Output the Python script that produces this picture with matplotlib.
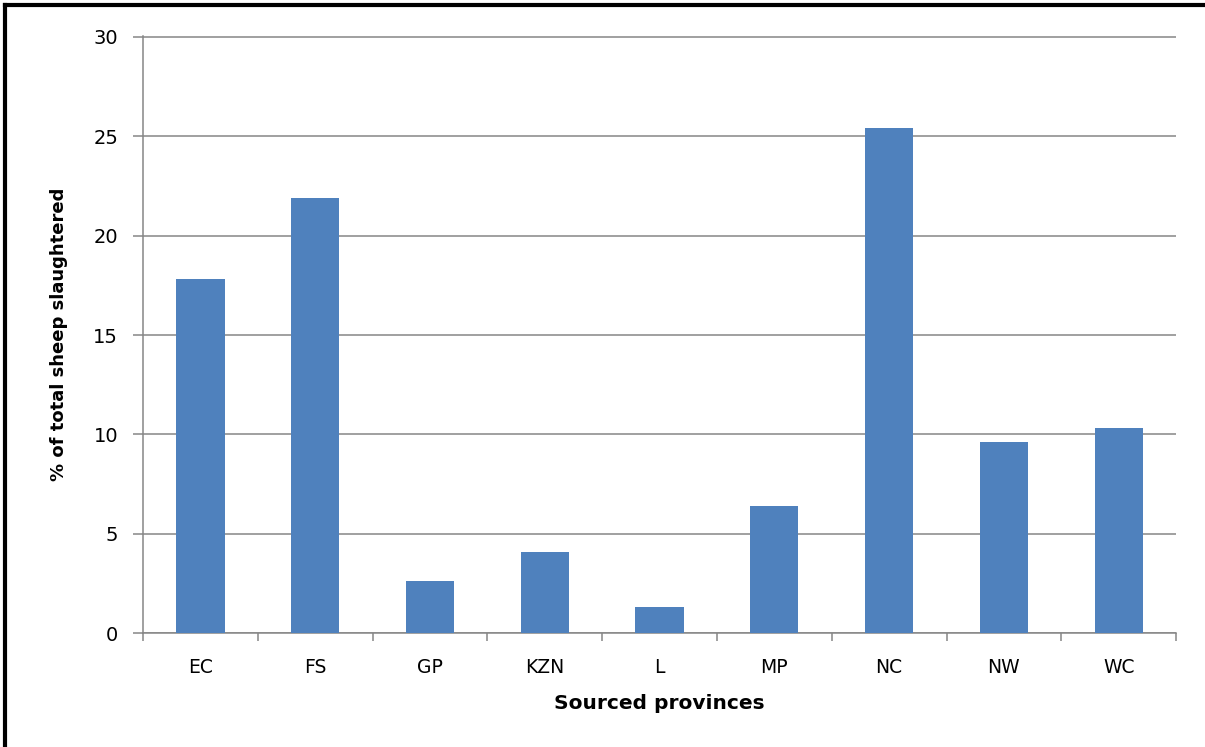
import matplotlib
matplotlib.use("Agg")
import matplotlib.pyplot as plt
from matplotlib.lines import Line2D
import numpy as np

# data
provinces = ["EC", "FS", "GP", "KZN", "L", "MP", "NC", "NW", "WC"]
pct_slaughtered = [17.8, 21.9, 2.6, 4.1, 1.3, 6.4, 25.4, 9.6, 10.3]

bar_color = "#4F81BD"
grid_color = "#868686"

fig = plt.figure(figsize=(12.05, 7.47), dpi=100)
ax = fig.add_axes([0.1187, 0.1526, 0.976 - 0.1187, 0.9518 - 0.1526])

x = np.arange(len(provinces))
ax.bar(x, pct_slaughtered, width=0.42, color=bar_color, zorder=3)

ax.set_xlim(-0.5, len(provinces) - 0.5)
ax.set_ylim(0, 30.05)
ax.set_yticks(range(0, 31, 5))
ax.yaxis.grid(True, color=grid_color, linewidth=1.1, zorder=0)

# category boundaries get the tick marks, labels sit in the middle
ax.set_xticks(np.arange(len(provinces) + 1) - 0.5)
ax.set_xticklabels([])
ax.set_xticks(x, minor=True)
ax.set_xticklabels(provinces, minor=True)
ax.tick_params(axis="x", which="major", length=6, width=1.1, color=grid_color, direction="out")
ax.tick_params(axis="x", which="minor", length=0, pad=18, labelsize=13.5)
ax.tick_params(axis="y", length=7, width=1.1, color=grid_color, pad=11, labelsize=14)

for s in ["top", "right"]:
    ax.spines[s].set_visible(False)
for s in ["left", "bottom"]:
    ax.spines[s].set_color(grid_color)
    ax.spines[s].set_linewidth(1.1)

ax.set_xlabel("Sourced provinces", fontsize=14.5, fontweight="bold", labelpad=12)
ax.set_ylabel("% of total sheep slaughtered", fontsize=13, fontweight="bold", labelpad=18)

# black frame on the left and top edges
fig.add_artist(Line2D([5 / 1205, 5 / 1205], [0, 1 - 5 / 747], color="black", linewidth=3, transform=fig.transFigure))
fig.add_artist(Line2D([5 / 1205, 1], [1 - 5 / 747, 1 - 5 / 747], color="black", linewidth=3, transform=fig.transFigure))

plt.savefig("out.png", dpi=100)
